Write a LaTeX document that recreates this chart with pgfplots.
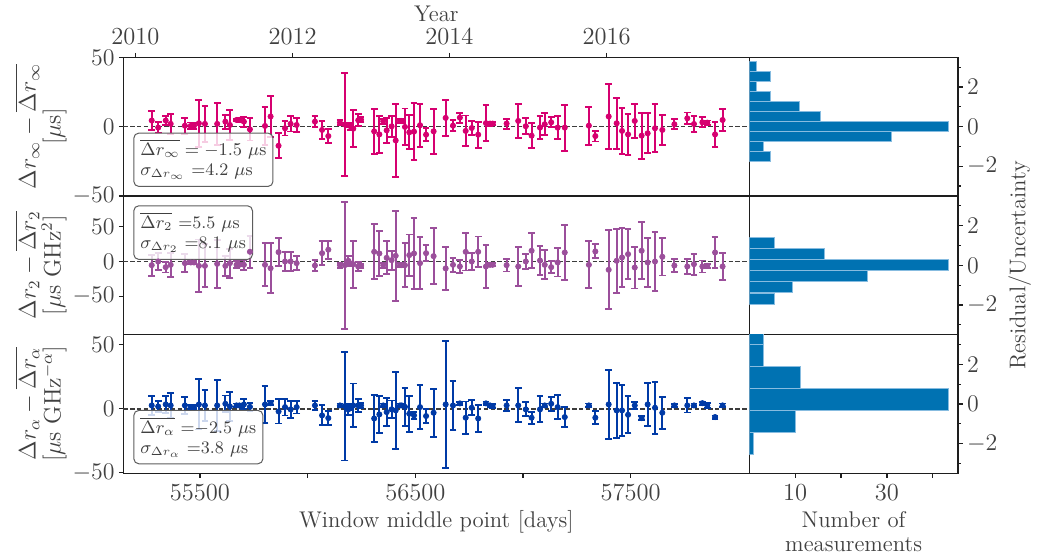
\documentclass[border=0pt]{standalone}
\usepackage{pgfplots}
\usepackage{pgfplotstable}
\pgfplotsset{compat=1.18}
\definecolor{cA}{RGB}{214,0,112}
\definecolor{cB}{RGB}{155,79,155}
\definecolor{cC}{RGB}{0,58,166}
\definecolor{hfill}{RGB}{0,114,178}
\definecolor{hedge}{RGB}{135,188,224}
\definecolor{txt}{RGB}{64,64,64}
\definecolor{spine}{RGB}{30,30,30}
\definecolor{zl}{RGB}{60,60,60}

\pgfplotstableread{
x y e
55276 4.4 6.7
55306 -0.7 4
55341 4.4 3
55364 2 7.3
55430 0.7 5.8
55457 0.5 2.5
55472 0.5 2
55495 2.4 17
55523 2 13
55580 2 15
55618 3.6 5
55639 1.2 11
55670 4.8 1
55683 4.8 1.5
55704 3.6 3.6
55732 -2 8
55802 0.5 13.5
55828 7.3 14.5
55865 -13.8 9
55895 -1.2 5.2
55921 2 5.5
55949 1.2 5
56034 3.6 4
56067 -2.4 6.3
56096 -6.8 5
56150 2.9 1.8
56173 1.5 37
56189 1 1.5
56200 0.2 2.5
56212 -1.5 13.5
56235 4.6 4.4
56248 5 1.8
56309 -3.4 16.3
56333 -5.6 13.2
56351 3.9 1.8
56367 -2.7 9.2
56390 0.2 7.5
56409 -10 26.6
56429 4.1 1.5
56437 4.1 1.5
56452 -0.2 13.3
56472 -4.1 12.2
56494 -3.6 20.6
56522 1 15.5
56550 -5.8 4.5
56585 -3.4 16.3
56641 6.3 13
56675 0.7 3.9
56707 6.5 3.6
56734 -3.1 11.1
56762 -1 5.1
56792 -5.8 9.3
56828 2.5 13
56847 2.2 1.5
56859 2.2 1.2
56924 2.2 3.6
56978 4.1 12.5
57013 0.3 5.6
57040 -6.5 9
57079 -0.7 8.2
57101 1.7 7.9
57131 3.1 3.6
57161 -0.7 8.2
57194 -0.7 16.6
57306 0.7 13.7
57336 -6.8 3.9
57398 7.3 23.5
57435 2.4 18.4
57460 -3.1 16.7
57488 -5.6 15
57519 4.1 12.1
57551 -6.5 16.6
57579 -4.8 14.5
57613 -1.2 17.4
57647 -2.4 10.7
57703 1.7 3.5
57763 6 4.2
57794 1.9 5.7
57833 3.1 3.6
57856 2.9 1.5
57892 -5.6 9
57927 4.8 8
}\dataA

\pgfplotstableread{
x y e
55276 -5.3 15.2
55306 0 12
55341 -8.2 7.7
55364 -4.8 17.6
55430 -2.4 13.3
55457 -1.4 2
55472 -1.4 2
55495 -6.3 38
55523 -6.3 31
55580 -3.4 35
55618 -6.3 14.5
55639 -2.4 21
55670 -4.8 5
55683 -4.8 2
55704 -4.8 7.2
55732 14 23
55802 -4.8 31
55828 -9.7 36
55865 13.5 20.5
55895 0 13.8
55921 0 13.3
55949 -2.4 9.7
56034 -5.8 7.7
56067 12 17.4
56096 17 12.8
56150 -5.3 3.6
56173 -5.3 91.5
56189 1 7.2
56200 -3 3
56212 -3.9 33.8
56235 -7.2 7
56248 -6.3 3
56309 14 39.6
56333 11.6 31.9
56351 -5.3 3.6
56367 5.3 23.7
56390 1.9 13.8
56409 8.2 64.7
56429 -5.3 3
56437 -5.3 3
56452 -5.3 32
56472 9.2 29.7
56494 11.6 50.7
56522 -2.4 37.4
56550 12 11.4
56585 7.7 40.6
56641 -10 31
56675 -4.8 10.4
56707 -7.2 9
56734 14 27
56762 0 12
56792 14 22
56828 -7.2 31.4
56847 -4.8 2
56859 -4.8 2
56924 -5.3 9.2
56978 -7.2 27.8
57013 0 10.9
57040 15.5 25.4
57079 1.4 21.5
57101 -4.8 20.8
57131 -8.2 9
57161 -1.4 20.3
57194 13 39.6
57306 -4.8 33.8
57336 14.5 10.1
57398 -12 56.8
57435 1 45.9
57460 5.8 42.3
57488 10.6 36.2
57519 -8.7 30.2
57551 15.5 41
57579 -1.4 34.8
57613 0 42.8
57647 6.8 27
57703 -5.8 9
57763 -7.2 10.6
57794 -3.9 15
57833 -7.2 8.7
57856 -6.3 3
57892 13 22.2
57927 -7.2 19.3
}\dataB

\pgfplotstableread{
x y e
55276 2.6 7.6
55306 1.8 4.6
55341 3.4 6.5
55364 2.6 9.4
55430 2.6 6.9
55457 1.3 1.5
55472 1.3 1.5
55495 3.4 19.6
55523 2.6 12.4
55580 2.6 20
55618 3.9 6.5
55639 1.8 11.5
55670 2.6 1.5
55683 2.6 1.5
55704 3.4 3.9
55732 1.5 3
55802 3.4 14.7
55828 4.4 1.5
55865 -2.1 9.4
55895 1.3 6.6
55921 -0.5 6.5
55949 1.3 5
56034 2.6 3.4
56067 -5.2 7.8
56096 -7.3 5.2
56150 2.6 1.5
56173 2.1 42.6
56189 -0.5 4.6
56200 1.3 2
56212 2.6 17.2
56235 2.6 5.2
56248 2.6 2
56309 -7.6 18.3
56333 -4.4 14.6
56351 2.6 1.5
56367 -2.6 11.1
56390 -0.5 7
56409 -1.3 30.4
56429 2.6 1.5
56437 2.6 1.5
56452 1.5 15
56472 -3.9 14
56494 -5.2 3
56522 1.3 17
56550 -5.7 5.5
56585 -3.1 18.8
56641 3.4 49.6
56675 2.6 18.9
56707 4.2 1.2
56734 -7 12.7
56762 0.8 6
56792 -7.6 10.4
56828 4.2 1.5
56847 2.6 1.5
56859 2.1 1.5
56924 2.6 4.3
56978 2.6 13.3
57013 -0.5 5.5
57040 -7 4.6
57079 -0.5 10.2
57101 2.6 1.5
57131 3.9 5.6
57161 1.3 9.3
57194 -6.5 7.8
57306 2.6 1.5
57336 -7 5
57398 3.4 26.8
57435 -1.3 21.4
57460 -1.3 19.8
57488 -4.7 14.4
57519 2.6 2.6
57551 -7.3 1.5
57579 3.4 16.6
57613 0.8 20.2
57647 -3.1 12.4
57703 2.6 1.2
57763 2.6 5.5
57794 2.6 1.5
57833 4.4 1.2
57856 2.6 2
57892 -6.5 1.2
57927 2.6 1.5
}\dataC

\tikzset{
  box/.style={draw=txt!85, line width=0.5bp, rounded corners=2.5bp, fill=white,
    fill opacity=0.8, text opacity=1, align=left, inner sep=3.3bp,
    font=\fontsize{8.8}{10}\selectfont, text=txt},
}
\pgfplotsset{
  base/.style={scale only axis, height=69.33bp, anchor=south west,
    scaled ticks=false,
    /pgf/number format/set thousands separator={},
    axis line style={spine, line width=0.6bp},
    every tick/.style={spine, line width=0.6bp},
    major tick length=2.25bp, minor tick length=1.3bp, tick align=outside,
    every tick label/.append style={font=\fontsize{12.3}{14}\selectfont, text=txt},
    yticklabel style={inner sep=1.9bp},
    xticklabel style={inner sep=3.1bp}},
  main/.style={base, width=313bp, clip=false, xmin=55144, xmax=58051,
    ytick={-50,0,50}, ytick pos=left, xtick=\empty},
  hist/.style={base, width=104.35bp, xmin=0, xmax=45.5, ymin=-3.5, ymax=3.5,
    ytick={-2,0,2}, minor ytick={-3,-1,1,3}, ytick pos=right, yticklabel pos=right,
    xtick=\empty, yticklabel style={inner sep=2.1bp}},
  pts/.style={only marks, mark=*, mark size=1.3bp,
    error bars/.cd, y dir=both, y explicit,
    error bar style={line width=0.95bp},
    error mark options={rotate=90, mark size=1.7bp, line width=0.95bp}},
  zero/.style={zl, line width=0.75bp, dash pattern=on 2.2bp off 1.2bp},
  hbar/.style={xbar, bar shift=0pt, fill=hfill, draw=hedge, line width=0.5bp},
}

\begin{document}
\begin{tikzpicture}
\path[use as bounding box] (0,0) rectangle (519bp,279.5bp);

% ---------- top row ----------
\begin{axis}[main, at={(61.65bp,181.52bp)}, ymin=-50, ymax=50,
  xtick={55200,55930,56658,57388}, xticklabels={2010,2012,2014,2016},
  xtick pos=right, xticklabel pos=right, xticklabel style={inner sep=3.9bp}]
\addplot[zero] coordinates {(55144,0) (58051,0)};
\addplot[cA, pts] table[x=x, y=y, y error=e] {\dataA};
\node[box, anchor=south west] at (rel axis cs:0.016,0.065)
  {$\overline{\Delta r_\infty} = -1.5\ \mu$s\\$\sigma_{\Delta r_\infty}$ =4.2 $\mu$s};
\end{axis}
\begin{axis}[hist, at={(374.65bp,181.52bp)}]
\addplot[hbar, bar width=0.505] coordinates {
(4.67,-1.4975) (3.06,-0.9925) (31,-0.4875) (43.5,0.0175) (15.5,0.5225)
(10.94,1.0275) (4.67,1.5325) (1.46,2.0375) (4.67,2.5425) (1.46,3.0475)};
\end{axis}

% ---------- middle row ----------
\begin{axis}[main, at={(61.65bp,112.18bp)}, ymin=-105.5, ymax=94.5]
\addplot[zero] coordinates {(55144,0) (58051,0)};
\addplot[cB, pts] table[x=x, y=y, y error=e] {\dataB};
\node[box, anchor=north west] at (rel axis cs:0.016,0.933)
  {$\overline{\Delta r_2}$ =5.5 $\mu$s\\$\sigma_{\Delta r_2}$ =8.1 $\mu$s};
\end{axis}
\begin{axis}[hist, at={(374.65bp,112.18bp)}]
\addplot[hbar, bar width=0.555] coordinates {
(5.47,-1.68) (9.48,-1.12) (25.75,-0.55) (43.5,0.01) (16.4,0.56) (5.47,1.12)};
\end{axis}

% ---------- bottom row ----------
\begin{axis}[main, at={(61.65bp,42.85bp)}, ymin=-50.5, ymax=58,
  xtick={55500,56000,56500,57000,57500}, xticklabels={55500,,56500,,57500},
  xtick pos=left]
\addplot[zero] coordinates {(55144,0) (58051,0)};
\addplot[cC, pts] table[x=x, y=y, y error=e] {\dataC};
\node[box, anchor=south west] at (rel axis cs:0.016,0.065)
  {$\overline{\Delta r_\alpha}$ =$-$2.5 $\mu$s\\$\sigma_{\Delta r_\alpha}$ =3.8 $\mu$s};
\end{axis}
\begin{axis}[hist, at={(374.65bp,42.85bp)},
  xtick={10,20,30,40}, xticklabels={10,,30,}, xtick pos=left]
\addplot[hbar, bar width=1.11] coordinates {
(1.0,-2.005) (10.1,-0.895) (43.5,0.215) (11.16,1.325) (3.06,2.435) (3.06,3.545)};
\end{axis}

% ---------- labels ----------
\begin{scope}[every node/.style={inner sep=0pt, text=txt}]
\node[rotate=90, anchor=south, align=center, font=\fontsize{12}{12.5}\selectfont]
  at (33.5bp,216.19bp) {$\Delta r_\infty - \overline{\Delta r_\infty}$\\{}[$\mu$s]};
\node[rotate=90, anchor=south, align=center, font=\fontsize{12}{12.5}\selectfont]
  at (33.5bp,146.85bp) {$\Delta r_2 - \overline{\Delta r_2}$\\{}[$\mu$s GHz$^2$]};
\node[rotate=90, anchor=south, align=center, font=\fontsize{12}{12.5}\selectfont]
  at (33.5bp,77.52bp) {$\Delta r_\alpha - \overline{\Delta r_\alpha}$\\{}[$\mu$s GHz$^{-\alpha}$]};
\node[rotate=90, anchor=north, font=\fontsize{11.4}{13}\selectfont]
  at (504bp,146.85bp) {Residual/Uncertainty};
\node[anchor=base, font=\fontsize{11.4}{13}\selectfont] at (218.15bp,268.65bp) {Year};
\node[anchor=base, font=\fontsize{11.4}{13}\selectfont] at (218.15bp,15.75bp) {Window middle point [days]};
\node[anchor=base, font=\fontsize{11.4}{13}\selectfont] at (426.8bp,15.75bp) {Number of};
\node[anchor=base, font=\fontsize{11.4}{13}\selectfont] at (426.8bp,3.65bp) {measurements};
\end{scope}
\end{tikzpicture}
\end{document}
